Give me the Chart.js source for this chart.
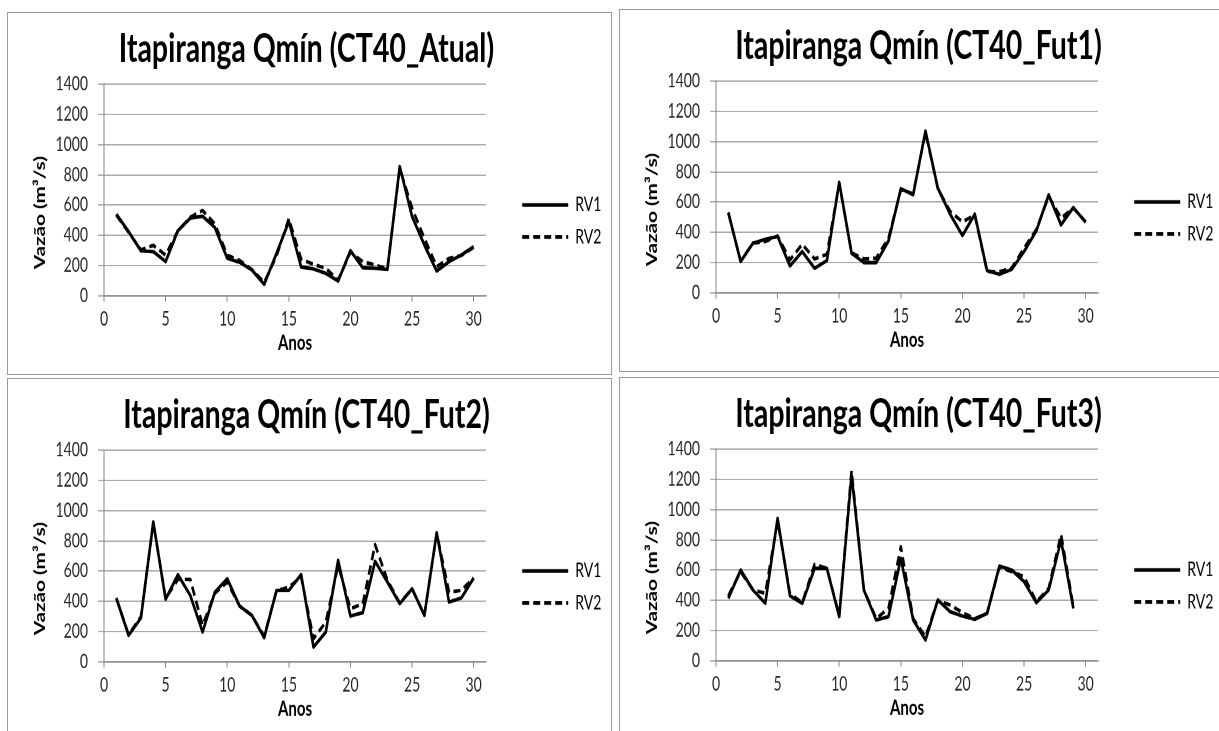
<!DOCTYPE html>
<html>
<head>
<meta charset="utf-8">
<script src="https://cdn.jsdelivr.net/npm/chart.js@4.4.1/dist/chart.umd.min.js"></script>
<style>
    html, body { margin: 0; padding: 0; background: #fff; overflow: hidden; }
    body { width: 1219px; height: 731px; position: relative; }
    .panel { position: absolute; border: 1px solid #9a9a9a; background: #fff; overflow: hidden; }
    /* the source image is stretched vertically, so the canvas is too */
    .panel canvas { position: absolute; left: 0; top: 0; transform: scaleY(1.38); transform-origin: 0 0; }
</style>
</head>
<body>
<div class="panel" style="left:7px;top:12px;width:603px;height:361px"><canvas id="chartAtual" width="603" height="262"></canvas></div>
<div class="panel" style="left:619px;top:9px;width:603px;height:361px"><canvas id="chartFut1" width="603" height="262"></canvas></div>
<div class="panel" style="left:7px;top:378px;width:603px;height:361px"><canvas id="chartFut2" width="603" height="262"></canvas></div>
<div class="panel" style="left:619px;top:377px;width:603px;height:361px"><canvas id="chartFut3" width="603" height="262"></canvas></div>
<script>
// anos da série
const anos = [1, 2, 3, 4, 5, 6, 7, 8, 9, 10, 11, 12, 13, 14, 15, 16, 17, 18, 19, 20, 21, 22, 23, 24, 25, 26, 27, 28, 29, 30];
const anosFut3 = [1, 2, 3, 4, 5, 6, 7, 8, 9, 10, 11, 12, 13, 14, 15, 16, 17, 18, 19, 20, 21, 22, 23, 24, 25, 26, 27, 28, 29];
const xTicks = [0, 5, 10, 15, 20, 25, 30];
const yTicks = [0, 200, 400, 600, 800, 1000, 1200, 1400];

// vazões mínimas (m³/s)
const atualRV1 = [540, 425, 298, 293, 227, 432, 514, 527, 452, 249, 223, 172, 77, 282, 492, 192, 179, 150, 99, 300, 187, 183, 176, 855, 525, 337, 165, 227, 271, 326];
const atualRV2 = [535, 420, 305, 335, 270, 430, 520, 565, 475, 270, 235, 175, 90, 265, 510, 243, 209, 183, 106, 290, 227, 205, 180, 845, 580, 381, 194, 249, 268, 322];
const fut1RV1 = [532, 208, 329, 355, 373, 179, 274, 163, 214, 731, 263, 201, 201, 344, 689, 649, 1069, 693, 521, 380, 521, 148, 124, 157, 274, 411, 649, 450, 565, 466];
const fut1RV2 = [530, 210, 330, 340, 377, 219, 322, 225, 256, 725, 265, 225, 230, 362, 682, 655, 1060, 690, 539, 470, 515, 141, 141, 165, 296, 420, 638, 495, 561, 470];
const fut2RV1 = [423, 176, 291, 925, 414, 577, 440, 198, 462, 550, 370, 308, 161, 473, 473, 577, 99, 198, 671, 304, 326, 665, 528, 385, 484, 308, 854, 396, 423, 555];
const fut2RV2 = [420, 180, 300, 920, 420, 546, 546, 242, 455, 528, 370, 308, 170, 470, 495, 561, 154, 264, 638, 352, 385, 775, 540, 390, 484, 310, 850, 462, 473, 555];
const fut3RV1 = [414, 601, 469, 381, 942, 431, 381, 612, 612, 293, 1228, 469, 271, 293, 678, 271, 139, 403, 326, 297, 275, 315, 627, 601, 524, 385, 469, 799, 348];
const fut3RV2 = [430, 590, 470, 447, 925, 445, 385, 638, 612, 300, 1255, 470, 280, 348, 755, 280, 160, 400, 370, 320, 280, 315, 620, 590, 557, 390, 480, 836, 360];

Chart.defaults.font.family = "Lato, 'Open Sans', sans-serif";
Chart.defaults.color = "#262626";

function serie(label, years, values, dash) {
    return {
        label, data: years.map((ano, i) => ({ x: ano, y: values[i] })), xAxisID: "x", yAxisID: "y",
        showLine: true, borderColor: "#000", backgroundColor: "#000", borderWidth: 2.6, borderDash: dash,
        borderJoinStyle: "round", pointRadius: 0, tension: 0
    };
}

function legendLabels(chart) {
    return Chart.defaults.plugins.legend.labels.generateLabels(chart).map((item) => {
        const ds = chart.data.datasets[item.datasetIndex];
        return { ...item, lineDash: ds.borderDash, lineWidth: ds.borderWidth, strokeStyle: "#000" };
    });
}

function buildChart(id, title, years, rv1, rv2) {
    return new Chart(document.getElementById(id), {
        type: "scatter",
        data: { datasets: [serie("RV1", years, rv1, []), serie("RV2", years, rv2, [7, 4])] },
        options: {
            responsive: false, animation: false, events: [], devicePixelRatio: 2,
            layout: { padding: { left: 0, right: 6, top: 0, bottom: 8.9 } },
            plugins: {
                title: { display: true, text: title, color: "#000", font: { size: 28.5, weight: "bold" }, padding: { top: 9.3, bottom: 7.9 } },
                legend: {
                    position: "right", maxWidth: 92,
                    title: { display: true, text: "", font: { size: 10 }, padding: { top: 36.3, bottom: 0 } },
                    labels: { usePointStyle: true, pointStyle: "line", pointStyleWidth: 46, padding: 9.2, color: "#000", font: { size: 14 }, generateLabels: legendLabels }
                },
                tooltip: { enabled: false }
            },
            scales: {
                x: {
                    type: "linear", min: 0, max: 31,
                    afterBuildTicks: (s) => { s.ticks = xTicks.map((v) => ({ value: v })); },
                    afterFit: (s) => { s.height = 48; },
                    grid: { drawOnChartArea: false, color: "#868686", tickLength: 4 },
                    border: { color: "#868686" },
                    ticks: { padding: 6, maxRotation: 0, font: { size: 14, lineHeight: 1 }, callback: (v) => String(v) },
                    title: { display: true, text: "Anos", color: "#000", font: { size: 15, weight: "bold" }, padding: { top: 0, bottom: 5 } }
                },
                y: {
                    type: "linear", min: 0, max: 1400,
                    afterBuildTicks: (s) => { s.ticks = yTicks.map((v) => ({ value: v })); },
                    afterFit: (s) => { s.width = 96; },
                    grid: { color: "#acacac", tickLength: 6 },
                    border: { color: "#868686" },
                    ticks: { padding: 10, font: { size: 14 }, callback: (v) => String(v) },
                    title: { display: true, text: "Vazão (m³/s)         ", color: "#000", font: { size: 15, weight: "bold" }, padding: { top: 23, bottom: 0 } }
                },
                gap: {
                    type: "linear", position: "right", display: true,
                    grid: { display: false }, ticks: { display: false }, border: { display: false },
                    afterFit: (s) => { s.width = 27; }
                }
            }
        }
    });
}

buildChart("chartAtual", "Itapiranga Qmín (CT40_Atual)", anos, atualRV1, atualRV2);
buildChart("chartFut1", "Itapiranga Qmín (CT40_Fut1)", anos, fut1RV1, fut1RV2);
buildChart("chartFut2", "Itapiranga Qmín (CT40_Fut2)", anos, fut2RV1, fut2RV2);
buildChart("chartFut3", "Itapiranga Qmín (CT40_Fut3)", anosFut3, fut3RV1, fut3RV2);
</script>
</body>
</html>
